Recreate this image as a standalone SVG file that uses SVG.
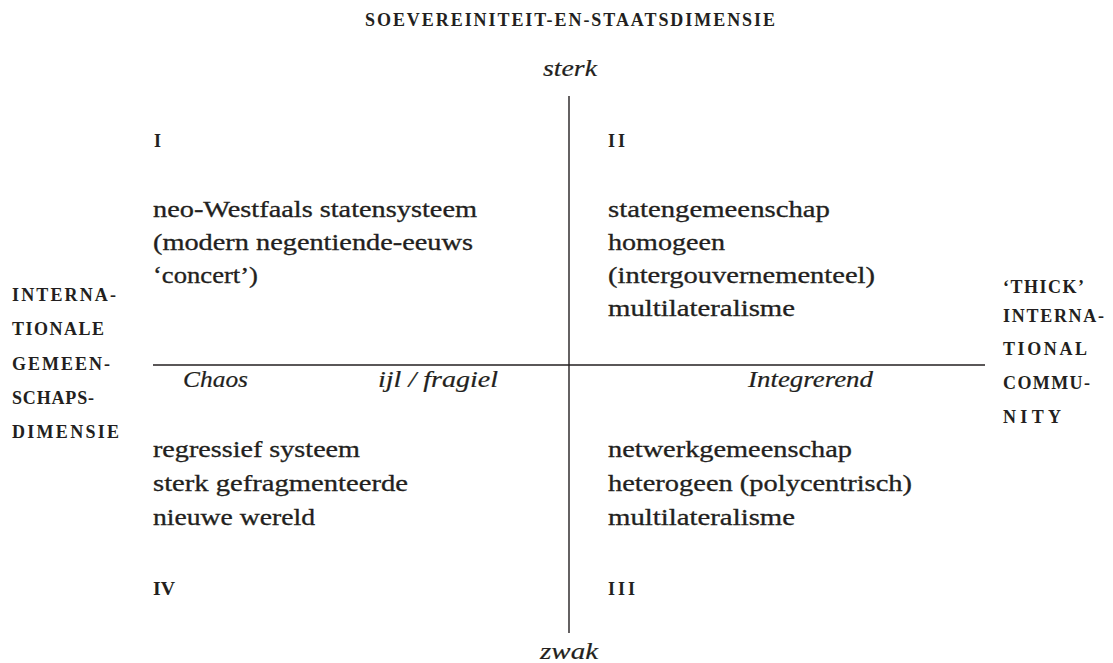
<svg xmlns="http://www.w3.org/2000/svg" width="1113" height="663" viewBox="0 0 1113 663">
<style>
.bg{fill:#ffffff}
.ax{stroke:#231f20;stroke-width:1.4;fill:none}
.sc{font-family:"Liberation Serif","Times New Roman",serif;font-weight:bold;font-size:18px;fill:#231f20}
.tx{font-family:"Liberation Serif","Times New Roman",serif;font-size:22.5px;fill:#231f20;stroke:#231f20;stroke-width:0.3}
.it{font-family:"Liberation Serif","Times New Roman",serif;font-style:italic;font-size:23.5px;fill:#231f20;stroke:#231f20;stroke-width:0.2}
</style>
<rect class="bg" x="0" y="0" width="1113" height="663"/>
<g id="connectors">
<line class="ax" x1="569" y1="96" x2="569" y2="633"/>
<line class="ax" x1="153" y1="365" x2="985" y2="365"/>
</g>
<g id="title">
<text class="sc" x="365" y="26" textLength="410" lengthAdjust="spacing">SOEVEREINITEIT-EN-STAATSDIMENSIE</text>
</g>
<g id="axis-top"><text class="it" x="543" y="76" textLength="54" lengthAdjust="spacingAndGlyphs">sterk</text></g>
<g id="axis-bottom"><text class="it" x="540" y="659" textLength="58" lengthAdjust="spacingAndGlyphs">zwak</text></g>
<g id="axis-left-label">
<text class="sc" x="12" y="301" textLength="104" lengthAdjust="spacing">INTERNA-</text>
<text class="sc" x="12" y="335" textLength="92" lengthAdjust="spacing">TIONALE</text>
<text class="sc" x="12" y="370" textLength="98" lengthAdjust="spacing">GEMEEN-</text>
<text class="sc" x="12" y="404" textLength="82" lengthAdjust="spacing">SCHAPS-</text>
<text class="sc" x="12" y="438" textLength="107" lengthAdjust="spacing">DIMENSIE</text>
</g>
<g id="axis-right-label">
<text class="sc" x="1003" y="293" textLength="81" lengthAdjust="spacing">‘THICK’</text>
<text class="sc" x="1003" y="322" textLength="101" lengthAdjust="spacing">INTERNA-</text>
<text class="sc" x="1003" y="355" textLength="84" lengthAdjust="spacing">TIONAL</text>
<text class="sc" x="1003" y="389" textLength="87" lengthAdjust="spacing">COMMU-</text>
<text class="sc" x="1003" y="423" textLength="58" lengthAdjust="spacing">NITY</text>
</g>
<g id="axis-mid-labels">
<text class="it" x="183" y="387" textLength="65" lengthAdjust="spacingAndGlyphs">Chaos</text>
<text class="it" x="378" y="387" textLength="120" lengthAdjust="spacingAndGlyphs">ijl / fragiel</text>
<text class="it" x="748" y="387" textLength="125" lengthAdjust="spacingAndGlyphs">Integrerend</text>
</g>
<g id="quadrant-I">
<text class="sc" x="154" y="147">I</text>
<text class="tx" x="153" y="217" textLength="324" lengthAdjust="spacingAndGlyphs">neo-Westfaals statensysteem</text>
<text class="tx" x="153" y="250" textLength="320" lengthAdjust="spacingAndGlyphs">(modern negentiende-eeuws</text>
<text class="tx" x="153" y="283" textLength="105" lengthAdjust="spacingAndGlyphs">‘concert’)</text>
</g>
<g id="quadrant-II">
<text class="sc" x="608" y="147" textLength="17" lengthAdjust="spacing">II</text>
<text class="tx" x="608" y="217" textLength="222" lengthAdjust="spacingAndGlyphs">statengemeenschap</text>
<text class="tx" x="608" y="250" textLength="117" lengthAdjust="spacingAndGlyphs">homogeen</text>
<text class="tx" x="608" y="283" textLength="267" lengthAdjust="spacingAndGlyphs">(intergouvernementeel)</text>
<text class="tx" x="608" y="316" textLength="187" lengthAdjust="spacingAndGlyphs">multilateralisme</text>
</g>
<g id="quadrant-IV">
<text class="sc" x="153" y="595" textLength="22" lengthAdjust="spacingAndGlyphs">IV</text>
<text class="tx" x="153" y="457" textLength="207" lengthAdjust="spacingAndGlyphs">regressief systeem</text>
<text class="tx" x="153" y="491" textLength="255" lengthAdjust="spacingAndGlyphs">sterk gefragmenteerde</text>
<text class="tx" x="153" y="525" textLength="162" lengthAdjust="spacingAndGlyphs">nieuwe wereld</text>
</g>
<g id="quadrant-III">
<text class="sc" x="608" y="595" textLength="27" lengthAdjust="spacing">III</text>
<text class="tx" x="608" y="457" textLength="244" lengthAdjust="spacingAndGlyphs">netwerkgemeenschap</text>
<text class="tx" x="608" y="491" textLength="304" lengthAdjust="spacingAndGlyphs">heterogeen (polycentrisch)</text>
<text class="tx" x="608" y="525" textLength="187" lengthAdjust="spacingAndGlyphs">multilateralisme</text>
</g>
</svg>
